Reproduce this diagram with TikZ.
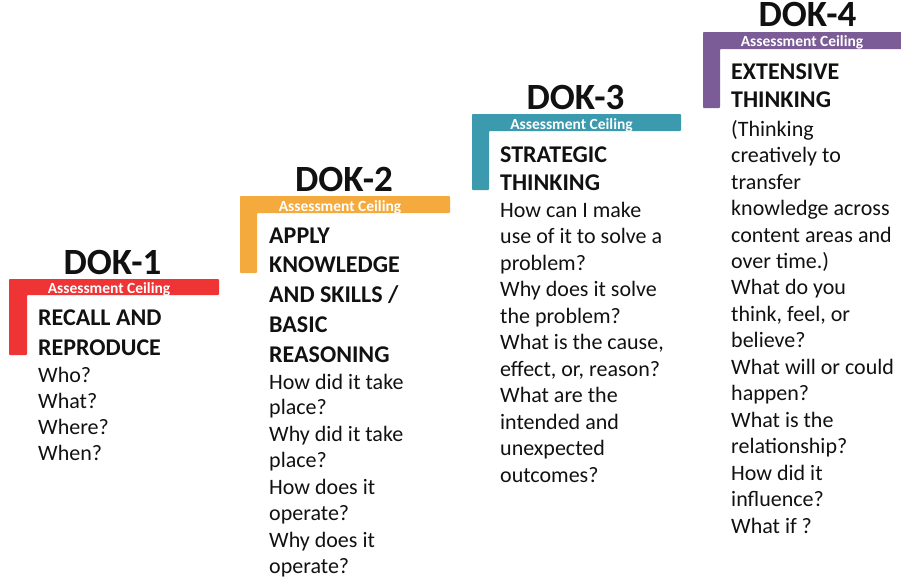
\documentclass[tikz,border=0pt]{standalone}
\usepackage{fontspec}
\setmainfont{Carlito}
\definecolor{dokred}{HTML}{EE3434}
\definecolor{dokorange}{HTML}{F4AA3C}
\definecolor{dokteal}{HTML}{3B9AAE}
\definecolor{dokpurple}{HTML}{7B5C97}
\definecolor{ink}{HTML}{111111}
\begin{document}
\begin{tikzpicture}[x=1pt,y=-1pt,
  title/.style={font=\fontsize{37}{37}\selectfont\bfseries, text=ink, anchor=base, inner sep=0pt},
  ceil/.style={font=\fontsize{15.5}{15.5}\selectfont\bfseries, text=white, anchor=base, inner sep=0pt},
  head/.style={font=\fontsize{24}{29.5}\selectfont\bfseries, text=ink, anchor=base west, inner sep=0pt, align=left},
  body/.style={font=\fontsize{22}{25.7}\selectfont, text=ink, anchor=base west, inner sep=0pt, align=left},
  bar/.style={rounded corners=0.8pt}]
\useasboundingbox (0,0) rectangle (901,584);
% brackets
\fill[dokred,bar] (9,279) -- (219,279) -- (219,295) -- (27,295) -- (27,355) -- (9,355) -- cycle;
\fill[dokorange,bar] (240,196) -- (450,196) -- (450,213) -- (257,213) -- (257,273) -- (240,273) -- cycle;
\fill[dokteal,bar] (472,114) -- (681,114) -- (681,131) -- (489,131) -- (489,190) -- (472,190) -- cycle;
\fill[dokpurple,bar] (703,32) -- (905,32) -- (905,49) -- (720,49) -- (720,108) -- (703,108) -- cycle;
% DOK-1 (multi-line nodes are placed by the baseline of their last line)
\node[title] (t1) at (112.5,274) {DOK-1};
\node[ceil] (c1) at (109,293) {Assessment Ceiling};
\node[head] (h1) at (38,355) {RECALL AND\\REPRODUCE};
\node[body] (b1) at (38,460) {Who?\\What?\\Where?\\When?};
% DOK-2
\node[title] (t2) at (344,191) {DOK-2};
\node[ceil] (c2) at (340,211) {Assessment Ceiling};
\node[head,font=\fontsize{24}{29.75}\selectfont\bfseries] (h2) at (269,362) {APPLY\\KNOWLEDGE\\AND SKILLS /\\BASIC\\REASONING};
\node[body,font=\fontsize{22}{25.3}\selectfont] (b2) at (269,573) {How did it take\\place?\\[2.3pt]Why did it take\\place?\\[2.3pt]How does it\\operate?\\[2.3pt]Why does it\\operate?};
% DOK-3
\node[title] (t3) at (575.5,109) {DOK-3};
\node[ceil] (c3) at (571.5,129) {Assessment Ceiling};
\node[head,font=\fontsize{24}{28}\selectfont\bfseries] (h3) at (500,190) {STRATEGIC\\THINKING};
\node[body,font=\fontsize{22}{26.5}\selectfont] (b3) at (500,482) {How can I make\\use of it to solve a\\problem?\\Why does it solve\\the problem?\\What is the cause,\\effect, or, reason?\\What are the\\intended and\\unexpected\\outcomes?};
% DOK-4
\node[title] (t4) at (807.5,26) {DOK-4};
\node[ceil] (c4) at (802,46) {Assessment Ceiling};
\node[head,font=\fontsize{24}{28}\selectfont\bfseries] (h4) at (731,107) {EXTENSIVE\\THINKING};
\node[body,font=\fontsize{22}{26.45}\selectfont] (b4) at (731,533) {(Thinking\\creatively to\\transfer\\knowledge across\\content areas and\\over time.)\\What do you\\think, feel, or\\believe?\\What will or could\\happen?\\What is the\\relationship?\\How did it\\influence?\\What if ?};
\end{tikzpicture}
\end{document}
